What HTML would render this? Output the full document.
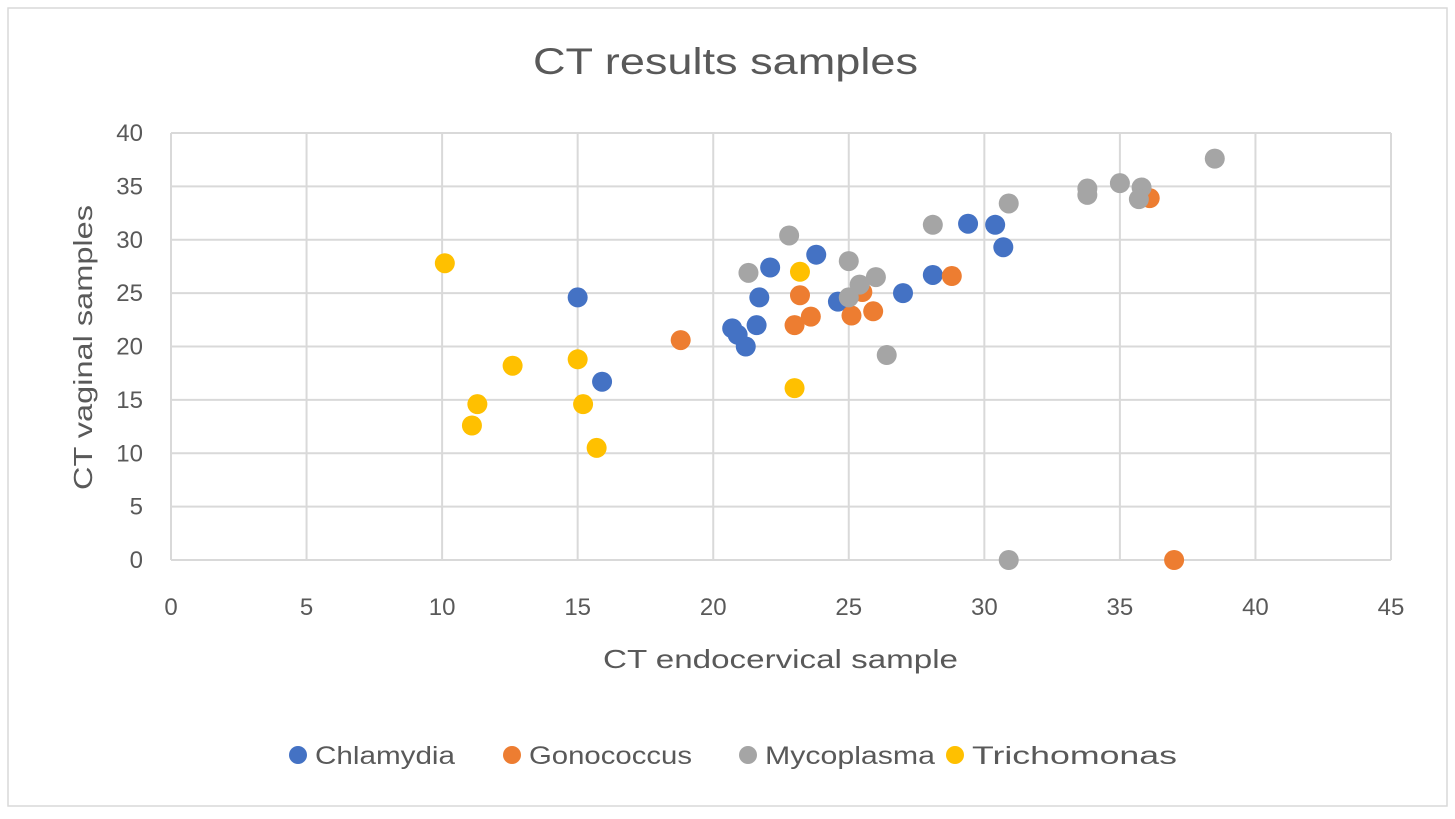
<!DOCTYPE html>
<html><head><meta charset="utf-8"><style>
body{margin:0;background:#fff;font-family:"Liberation Sans",sans-serif}
svg text{font-family:"Liberation Sans",sans-serif;fill:#595959}
</style></head><body>
<svg id="c" width="1455" height="814">
<rect x="8" y="8" width="1439" height="798" fill="#fff" stroke="#d9d9d9" stroke-width="1.5"/>
<text x="533" y="74" font-size="37" textLength="385" lengthAdjust="spacingAndGlyphs">CT results samples</text>
<g id="grid"></g><g id="pts"></g>
<text x="603" y="668" font-size="26" textLength="355" lengthAdjust="spacingAndGlyphs">CT endocervical sample</text>
<text transform="translate(92,490) rotate(-90)" font-size="26" textLength="285" lengthAdjust="spacingAndGlyphs">CT vaginal samples</text>
<g id="legend"></g>
</svg>
<script>
const xTicks=[0,5,10,15,20,25,30,35,40,45];
const yTicks=[0,5,10,15,20,25,30,35,40];
const seriesNames=["Chlamydia","Gonococcus","Mycoplasma","Trichomonas"];
const seriesColors=["#4472c4","#ed7d31","#a5a5a5","#ffc000"];
const chlX=[15.0,15.9,20.7,20.9,21.2,21.6,21.7,22.1,23.8,24.6,27.0,28.1,29.4,30.4,30.7];
const chlY=[24.6,16.7,21.7,21.1,20.0,22.0,24.6,27.4,28.6,24.2,25.0,26.7,31.5,31.4,29.3];
const gonX=[18.8,23.0,23.2,23.6,25.1,25.5,25.9,28.8,36.1,37.0];
const gonY=[20.6,22.0,24.8,22.8,22.9,25.1,23.3,26.6,33.9,0];
const mycX=[21.3,22.8,25.0,25.0,25.4,26.0,26.4,28.1,30.9,30.9,33.8,33.8,35.0,35.8,35.7,38.5];
const mycY=[26.9,30.4,28.0,24.6,25.8,26.5,19.2,31.4,33.4,0,34.8,34.2,35.3,34.9,33.8,37.6];
const triX=[10.1,11.1,11.3,12.6,15.0,15.2,15.7,23.0,23.2];
const triY=[27.8,12.6,14.6,18.2,18.8,14.6,10.5,16.1,27.0];
const NS="http://www.w3.org/2000/svg";
const X0=171,X1=1391,Y0=560,Y1=133;
const sx=v=>X0+(v-0)/(45-0)*(X1-X0);
const sy=v=>Y0-(v-0)/(40-0)*(Y0-Y1);
function mk(t,a,p){const e=document.createElementNS(NS,t);for(const k in a)e.setAttribute(k,a[k]);p.appendChild(e);return e;}
const g=document.getElementById('grid');
xTicks.forEach(v=>{
 const l=mk('line',{x1:sx(v),x2:sx(v),y1:Y1,y2:Y0,stroke:'#d9d9d9','stroke-width':2},g);
 
 
 const t=mk('text',{x:sx(v),y:Y0+55,'font-size':24,'text-anchor':'middle'},g);t.textContent=v;
 
 
});
yTicks.forEach(v=>{
 const l=mk('line',{x1:X0,x2:X1,y1:sy(v),y2:sy(v),stroke:'#d9d9d9','stroke-width':2},g);
 
 
 const t=mk('text',{x:X0-28,y:sy(v)+8,'font-size':24,'text-anchor':'end'},g);t.textContent=v;
 
 
});
const data=[[chlX,chlY],[gonX,gonY],[mycX,mycY],[triX,triY]];
const p=document.getElementById('pts');
data.forEach((d,i)=>{d[0].forEach((x,j)=>{
 const c=mk('circle',{cx:sx(x),cy:sy(d[1][j]),r:10,fill:seriesColors[i]},p);
 
 
});});
const lg=document.getElementById('legend');
const lx=[298,512,748,955];
const lw=[140,163,170,205];
seriesNames.forEach((n,i)=>{
 const c=mk('circle',{cx:lx[i],cy:755,r:9,fill:seriesColors[i]},lg);
 
 
 const t=mk('text',{x:lx[i]+17,y:764,'font-size':25,textLength:lw[i],lengthAdjust:'spacingAndGlyphs'},lg);t.textContent=n;
 
 
});
</script>
</body></html>
